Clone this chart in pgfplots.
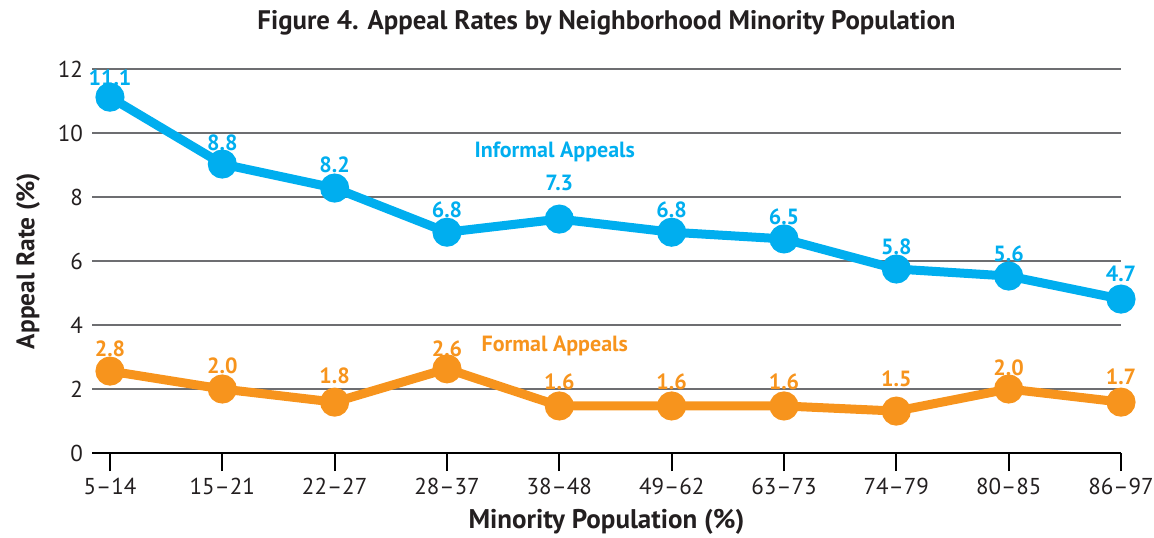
\documentclass[border=0pt]{standalone}
\usepackage{pgfplots}
\usepackage{pgfplotstable}
\usepackage{fontspec}
\setmainfont{PT Sans}
\pgfplotsset{compat=1.18}
\definecolor{infblue}{HTML}{00AEEF}
\definecolor{formorange}{HTML}{F7941D}
\definecolor{gridgray}{HTML}{6D6E71}
\definecolor{txt}{HTML}{231F20}

% x, plotted y, label y, label text
\pgfplotstableread{
x y ly lab
0 11.12 11.72 11.1
1 9.03 9.69 8.8
2 8.28 9.00 8.2
3 6.90 7.59 6.8
4 7.31 8.44 7.3
5 6.90 7.59 6.8
6 6.69 7.38 6.5
7 5.75 6.44 5.8
8 5.53 6.22 5.6
9 4.81 5.59 4.7
}\informal
\pgfplotstableread{
x y ly lab
0 2.56 3.25 2.8
1 2.00 2.72 2.0
2 1.59 2.41 1.8
3 2.63 3.25 2.6
4 1.47 2.22 1.6
5 1.47 2.22 1.6
6 1.47 2.22 1.6
7 1.31 2.31 1.5
8 2.00 2.66 2.0
9 1.59 2.38 1.7
}\formal

\begin{document}
\begin{tikzpicture}
\useasboundingbox (-46pt,-42pt) rectangle (531pt,226.5pt);
\begin{axis}[
  scale only axis, width=514.5pt, height=192pt,
  xmin=-0.16, xmax=9, ymin=0, ymax=12,
  axis x line*=bottom, axis y line*=left,
  y axis line style={draw=none},
  x axis line style={line width=1.2pt, black},
  xtick=data,
  xticklabels={5--14,15--21,22--27,28--37,38--48,49--62,63--73,74--79,80--85,86--97},
  xtick style={line width=1pt, black},
  xtick align=outside, major tick length=9pt,
  ytick={0,2,...,12}, ytick style={draw=none},
  ymajorgrids, grid style={line width=0.85pt, gridgray},
  /pgf/number format/assume math mode=true,
  tick label style={font=\fontsize{11.5}{13}\selectfont, text=txt},
  yticklabel style={xshift=-1pt},
  title={\textbf{Figure 4. Appeal Rates by Neighborhood Minority Population}},
  title style={at={(axis description cs:0.5,1)}, anchor=center, yshift=17pt,
    font=\fontsize{13.4}{15}\selectfont, text=txt},
  xlabel={\textbf{Minority Population (\%)}},
  xlabel style={at={(axis description cs:0.5,-0.18)}, anchor=center,
    font=\fontsize{13.5}{15}\selectfont, text=txt},
  ylabel={\textbf{Appeal Rate (\%)}},
  ylabel style={at={(axis description cs:-0.062,0.5)}, anchor=center,
    font=\fontsize{12.7}{15}\selectfont, text=txt},
  clip=false,
]
\addplot[infblue, line width=4.5pt, mark=*, mark size=5pt,
  mark options={solid, fill=infblue, draw=none}] table[x=x,y=y] {\informal};
\addplot[formorange, line width=4.5pt, mark=*, mark size=5pt,
  mark options={solid, fill=formorange, draw=none}] table[x=x,y=y] {\formal};
\addplot[draw=none, mark=none, nodes near coords, point meta=explicit symbolic,
  every node near coord/.append style={anchor=center, inner sep=0pt,
    font=\fontsize{11}{13}\selectfont\bfseries, text=infblue}]
  table[x=x,y=ly,meta=lab] {\informal};
\addplot[draw=none, mark=none, nodes near coords, point meta=explicit symbolic,
  every node near coord/.append style={anchor=center, inner sep=0pt,
    font=\fontsize{11}{13}\selectfont\bfseries, text=formorange}]
  table[x=x,y=ly,meta=lab] {\formal};
\node[font=\fontsize{11}{13}\selectfont\bfseries, text=infblue] at (axis cs:3.96,9.41) {Informal Appeals};
\node[font=\fontsize{11}{13}\selectfont\bfseries, text=formorange] at (axis cs:3.96,3.34) {Formal Appeals};
\end{axis}
\end{tikzpicture}
\end{document}
